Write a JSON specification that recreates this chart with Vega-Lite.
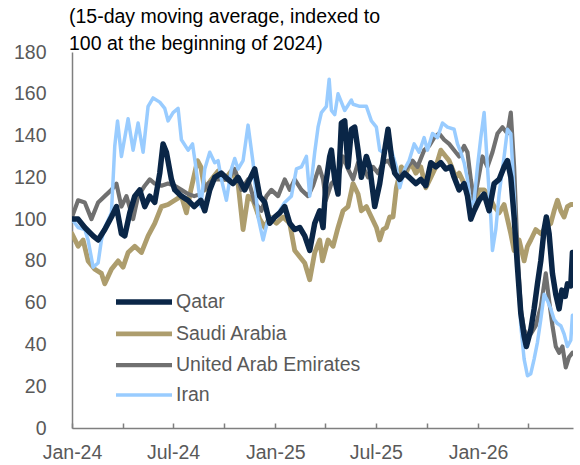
{
  "$schema": "https://vega.github.io/schema/vega-lite/v6.json",
  "width": 501,
  "height": 376,
  "autosize": {"type": "none"},
  "padding": {"left": 72, "top": 52, "right": 7, "bottom": 37},
  "background": "white",
  "config": {"view": {"stroke": null}, "font": "Liberation Sans"},
  "title": {
    "text": ["(15-day moving average, indexed to", "100 at the beginning of 2024)"],
    "anchor": "start",
    "frame": "group",
    "font": "Liberation Sans",
    "fontSize": 19.5,
    "fontWeight": "normal",
    "color": "#000000",
    "lineHeight": 27,
    "baseline": "bottom",
    "offset": -31,
    "dx": -3
  },
  "datasets": {
    "traffic": [
      {"d":"2024-01-01","c":"Saudi Arabia","v":93},{"d":"2024-01-12","c":"Saudi Arabia","v":87},{"d":"2024-01-21","c":"Saudi Arabia","v":90},{"d":"2024-01-30","c":"Saudi Arabia","v":80},{"d":"2024-02-11","c":"Saudi Arabia","v":76},{"d":"2024-02-23","c":"Saudi Arabia","v":74},{"d":"2024-02-29","c":"Saudi Arabia","v":69},{"d":"2024-03-12","c":"Saudi Arabia","v":76},{"d":"2024-03-24","c":"Saudi Arabia","v":80},{"d":"2024-04-02","c":"Saudi Arabia","v":77},{"d":"2024-04-11","c":"Saudi Arabia","v":84},{"d":"2024-04-23","c":"Saudi Arabia","v":87},{"d":"2024-05-05","c":"Saudi Arabia","v":84},{"d":"2024-05-17","c":"Saudi Arabia","v":92},{"d":"2024-05-29","c":"Saudi Arabia","v":98},{"d":"2024-06-10","c":"Saudi Arabia","v":106},{"d":"2024-06-22","c":"Saudi Arabia","v":107},{"d":"2024-07-04","c":"Saudi Arabia","v":109},{"d":"2024-07-16","c":"Saudi Arabia","v":111},{"d":"2024-07-25","c":"Saudi Arabia","v":103},{"d":"2024-08-02","c":"Saudi Arabia","v":114},{"d":"2024-08-14","c":"Saudi Arabia","v":128},{"d":"2024-08-20","c":"Saudi Arabia","v":125},{"d":"2024-08-27","c":"Saudi Arabia","v":114},{"d":"2024-09-08","c":"Saudi Arabia","v":119},{"d":"2024-09-20","c":"Saudi Arabia","v":123},{"d":"2024-10-02","c":"Saudi Arabia","v":119},{"d":"2024-10-14","c":"Saudi Arabia","v":123},{"d":"2024-10-26","c":"Saudi Arabia","v":117},{"d":"2024-11-04","c":"Saudi Arabia","v":95},{"d":"2024-11-13","c":"Saudi Arabia","v":111},{"d":"2024-11-22","c":"Saudi Arabia","v":109},{"d":"2024-12-04","c":"Saudi Arabia","v":100},{"d":"2024-12-13","c":"Saudi Arabia","v":96},{"d":"2024-12-22","c":"Saudi Arabia","v":101},{"d":"2025-01-03","c":"Saudi Arabia","v":98},{"d":"2025-01-15","c":"Saudi Arabia","v":101},{"d":"2025-01-27","c":"Saudi Arabia","v":98},{"d":"2025-02-05","c":"Saudi Arabia","v":85},{"d":"2025-02-14","c":"Saudi Arabia","v":82},{"d":"2025-02-23","c":"Saudi Arabia","v":79},{"d":"2025-03-04","c":"Saudi Arabia","v":71},{"d":"2025-03-13","c":"Saudi Arabia","v":84},{"d":"2025-03-22","c":"Saudi Arabia","v":90},{"d":"2025-03-27","c":"Saudi Arabia","v":80},{"d":"2025-04-06","c":"Saudi Arabia","v":90},{"d":"2025-04-15","c":"Saudi Arabia","v":87},{"d":"2025-04-24","c":"Saudi Arabia","v":96},{"d":"2025-05-03","c":"Saudi Arabia","v":104},{"d":"2025-05-12","c":"Saudi Arabia","v":106},{"d":"2025-05-21","c":"Saudi Arabia","v":117},{"d":"2025-05-30","c":"Saudi Arabia","v":112},{"d":"2025-06-05","c":"Saudi Arabia","v":104},{"d":"2025-06-14","c":"Saudi Arabia","v":106},{"d":"2025-06-23","c":"Saudi Arabia","v":101},{"d":"2025-07-02","c":"Saudi Arabia","v":96},{"d":"2025-07-08","c":"Saudi Arabia","v":90},{"d":"2025-07-14","c":"Saudi Arabia","v":95},{"d":"2025-07-20","c":"Saudi Arabia","v":96},{"d":"2025-07-26","c":"Saudi Arabia","v":101},{"d":"2025-08-01","c":"Saudi Arabia","v":101},{"d":"2025-08-07","c":"Saudi Arabia","v":115},{"d":"2025-08-16","c":"Saudi Arabia","v":125},{"d":"2025-08-24","c":"Saudi Arabia","v":122},{"d":"2025-09-02","c":"Saudi Arabia","v":127},{"d":"2025-09-11","c":"Saudi Arabia","v":122},{"d":"2025-09-20","c":"Saudi Arabia","v":125},{"d":"2025-09-29","c":"Saudi Arabia","v":115},{"d":"2025-10-08","c":"Saudi Arabia","v":120},{"d":"2025-10-17","c":"Saudi Arabia","v":125},{"d":"2025-10-26","c":"Saudi Arabia","v":133},{"d":"2025-11-04","c":"Saudi Arabia","v":130},{"d":"2025-11-10","c":"Saudi Arabia","v":128},{"d":"2025-11-16","c":"Saudi Arabia","v":124},{"d":"2025-11-22","c":"Saudi Arabia","v":120},{"d":"2025-11-28","c":"Saudi Arabia","v":122},{"d":"2025-12-07","c":"Saudi Arabia","v":117},{"d":"2025-12-16","c":"Saudi Arabia","v":111},{"d":"2025-12-25","c":"Saudi Arabia","v":107},{"d":"2026-01-03","c":"Saudi Arabia","v":114},{"d":"2026-01-12","c":"Saudi Arabia","v":114},{"d":"2026-01-21","c":"Saudi Arabia","v":111},{"d":"2026-01-30","c":"Saudi Arabia","v":106},{"d":"2026-02-08","c":"Saudi Arabia","v":103},{"d":"2026-02-17","c":"Saudi Arabia","v":107},{"d":"2026-02-23","c":"Saudi Arabia","v":100},{"d":"2026-03-01","c":"Saudi Arabia","v":93},{"d":"2026-03-07","c":"Saudi Arabia","v":85},{"d":"2026-03-16","c":"Saudi Arabia","v":90},{"d":"2026-03-25","c":"Saudi Arabia","v":80},{"d":"2026-03-31","c":"Saudi Arabia","v":87},{"d":"2026-04-06","c":"Saudi Arabia","v":90},{"d":"2026-04-15","c":"Saudi Arabia","v":95},{"d":"2026-04-24","c":"Saudi Arabia","v":93},{"d":"2026-05-03","c":"Saudi Arabia","v":96},{"d":"2026-05-12","c":"Saudi Arabia","v":98},{"d":"2026-05-18","c":"Saudi Arabia","v":104},{"d":"2026-05-24","c":"Saudi Arabia","v":109},{"d":"2026-05-30","c":"Saudi Arabia","v":104},{"d":"2026-06-05","c":"Saudi Arabia","v":101},{"d":"2026-06-11","c":"Saudi Arabia","v":106},{"d":"2026-06-17","c":"Saudi Arabia","v":107},{"d":"2026-06-20","c":"Saudi Arabia","v":107},

      {"d":"2024-01-01","c":"United Arab Emirates","v":101},{"d":"2024-01-12","c":"United Arab Emirates","v":109},{"d":"2024-01-24","c":"United Arab Emirates","v":108},{"d":"2024-02-05","c":"United Arab Emirates","v":100},{"d":"2024-02-17","c":"United Arab Emirates","v":108},{"d":"2024-02-29","c":"United Arab Emirates","v":111},{"d":"2024-03-12","c":"United Arab Emirates","v":114},{"d":"2024-03-21","c":"United Arab Emirates","v":117},{"d":"2024-03-30","c":"United Arab Emirates","v":106},{"d":"2024-04-08","c":"United Arab Emirates","v":111},{"d":"2024-04-20","c":"United Arab Emirates","v":100},{"d":"2024-04-29","c":"United Arab Emirates","v":111},{"d":"2024-05-11","c":"United Arab Emirates","v":116},{"d":"2024-05-20","c":"United Arab Emirates","v":119},{"d":"2024-05-29","c":"United Arab Emirates","v":117},{"d":"2024-06-10","c":"United Arab Emirates","v":116},{"d":"2024-06-22","c":"United Arab Emirates","v":117},{"d":"2024-07-04","c":"United Arab Emirates","v":116},{"d":"2024-07-16","c":"United Arab Emirates","v":114},{"d":"2024-07-28","c":"United Arab Emirates","v":112},{"d":"2024-08-08","c":"United Arab Emirates","v":111},{"d":"2024-08-20","c":"United Arab Emirates","v":112},{"d":"2024-09-02","c":"United Arab Emirates","v":117},{"d":"2024-09-14","c":"United Arab Emirates","v":119},{"d":"2024-09-26","c":"United Arab Emirates","v":119},{"d":"2024-10-08","c":"United Arab Emirates","v":119},{"d":"2024-10-20","c":"United Arab Emirates","v":124},{"d":"2024-11-01","c":"United Arab Emirates","v":114},{"d":"2024-11-13","c":"United Arab Emirates","v":119},{"d":"2024-11-25","c":"United Arab Emirates","v":108},{"d":"2024-12-07","c":"United Arab Emirates","v":104},{"d":"2024-12-16","c":"United Arab Emirates","v":111},{"d":"2024-12-25","c":"United Arab Emirates","v":114},{"d":"2025-01-06","c":"United Arab Emirates","v":111},{"d":"2025-01-18","c":"United Arab Emirates","v":119},{"d":"2025-01-27","c":"United Arab Emirates","v":114},{"d":"2025-02-05","c":"United Arab Emirates","v":119},{"d":"2025-02-17","c":"United Arab Emirates","v":114},{"d":"2025-03-01","c":"United Arab Emirates","v":111},{"d":"2025-03-10","c":"United Arab Emirates","v":116},{"d":"2025-03-21","c":"United Arab Emirates","v":125},{"d":"2025-03-28","c":"United Arab Emirates","v":119},{"d":"2025-04-02","c":"United Arab Emirates","v":109},{"d":"2025-04-12","c":"United Arab Emirates","v":117},{"d":"2025-04-24","c":"United Arab Emirates","v":120},{"d":"2025-05-03","c":"United Arab Emirates","v":130},{"d":"2025-05-12","c":"United Arab Emirates","v":124},{"d":"2025-05-21","c":"United Arab Emirates","v":119},{"d":"2025-05-30","c":"United Arab Emirates","v":127},{"d":"2025-06-08","c":"United Arab Emirates","v":125},{"d":"2025-06-17","c":"United Arab Emirates","v":120},{"d":"2025-06-26","c":"United Arab Emirates","v":125},{"d":"2025-07-05","c":"United Arab Emirates","v":122},{"d":"2025-07-14","c":"United Arab Emirates","v":127},{"d":"2025-07-23","c":"United Arab Emirates","v":128},{"d":"2025-08-01","c":"United Arab Emirates","v":124},{"d":"2025-08-10","c":"United Arab Emirates","v":120},{"d":"2025-08-19","c":"United Arab Emirates","v":122},{"d":"2025-08-27","c":"United Arab Emirates","v":125},{"d":"2025-09-05","c":"United Arab Emirates","v":128},{"d":"2025-09-14","c":"United Arab Emirates","v":125},{"d":"2025-09-26","c":"United Arab Emirates","v":133},{"d":"2025-10-05","c":"United Arab Emirates","v":135},{"d":"2025-10-14","c":"United Arab Emirates","v":139},{"d":"2025-10-23","c":"United Arab Emirates","v":141},{"d":"2025-11-01","c":"United Arab Emirates","v":138},{"d":"2025-11-10","c":"United Arab Emirates","v":136},{"d":"2025-11-19","c":"United Arab Emirates","v":133},{"d":"2025-11-28","c":"United Arab Emirates","v":130},{"d":"2025-12-07","c":"United Arab Emirates","v":135},{"d":"2025-12-13","c":"United Arab Emirates","v":132},{"d":"2025-12-19","c":"United Arab Emirates","v":119},{"d":"2025-12-25","c":"United Arab Emirates","v":109},{"d":"2025-12-31","c":"United Arab Emirates","v":117},{"d":"2026-01-09","c":"United Arab Emirates","v":130},{"d":"2026-01-18","c":"United Arab Emirates","v":125},{"d":"2026-01-27","c":"United Arab Emirates","v":132},{"d":"2026-02-05","c":"United Arab Emirates","v":141},{"d":"2026-02-14","c":"United Arab Emirates","v":144},{"d":"2026-02-23","c":"United Arab Emirates","v":141},{"d":"2026-03-01","c":"United Arab Emirates","v":151},{"d":"2026-03-07","c":"United Arab Emirates","v":125},{"d":"2026-03-13","c":"United Arab Emirates","v":85},{"d":"2026-03-19","c":"United Arab Emirates","v":57},{"d":"2026-03-25","c":"United Arab Emirates","v":47},{"d":"2026-03-31","c":"United Arab Emirates","v":44},{"d":"2026-04-06","c":"United Arab Emirates","v":45},{"d":"2026-04-15","c":"United Arab Emirates","v":49},{"d":"2026-04-24","c":"United Arab Emirates","v":58},{"d":"2026-05-03","c":"United Arab Emirates","v":74},{"d":"2026-05-09","c":"United Arab Emirates","v":61},{"d":"2026-05-15","c":"United Arab Emirates","v":49},{"d":"2026-05-21","c":"United Arab Emirates","v":39},{"d":"2026-05-27","c":"United Arab Emirates","v":36},{"d":"2026-06-02","c":"United Arab Emirates","v":39},{"d":"2026-06-08","c":"United Arab Emirates","v":29},{"d":"2026-06-14","c":"United Arab Emirates","v":34},{"d":"2026-06-20","c":"United Arab Emirates","v":36},

      {"d":"2024-01-01","c":"Iran","v":100},{"d":"2024-01-12","c":"Iran","v":96},{"d":"2024-01-24","c":"Iran","v":95},{"d":"2024-01-30","c":"Iran","v":90},{"d":"2024-02-08","c":"Iran","v":77},{"d":"2024-02-17","c":"Iran","v":79},{"d":"2024-02-23","c":"Iran","v":90},{"d":"2024-02-29","c":"Iran","v":96},{"d":"2024-03-12","c":"Iran","v":103},{"d":"2024-03-18","c":"Iran","v":135},{"d":"2024-03-23","c":"Iran","v":147},{"d":"2024-03-30","c":"Iran","v":130},{"d":"2024-04-11","c":"Iran","v":148},{"d":"2024-04-20","c":"Iran","v":133},{"d":"2024-04-29","c":"Iran","v":146},{"d":"2024-05-08","c":"Iran","v":132},{"d":"2024-05-17","c":"Iran","v":154},{"d":"2024-05-26","c":"Iran","v":158},{"d":"2024-06-07","c":"Iran","v":156},{"d":"2024-06-16","c":"Iran","v":153},{"d":"2024-06-22","c":"Iran","v":147},{"d":"2024-07-01","c":"Iran","v":151},{"d":"2024-07-10","c":"Iran","v":153},{"d":"2024-07-16","c":"Iran","v":138},{"d":"2024-07-28","c":"Iran","v":133},{"d":"2024-08-05","c":"Iran","v":136},{"d":"2024-08-11","c":"Iran","v":125},{"d":"2024-08-20","c":"Iran","v":106},{"d":"2024-08-27","c":"Iran","v":124},{"d":"2024-09-05","c":"Iran","v":132},{"d":"2024-09-14","c":"Iran","v":127},{"d":"2024-09-20","c":"Iran","v":128},{"d":"2024-09-26","c":"Iran","v":119},{"d":"2024-10-05","c":"Iran","v":109},{"d":"2024-10-14","c":"Iran","v":124},{"d":"2024-10-20","c":"Iran","v":129},{"d":"2024-10-26","c":"Iran","v":124},{"d":"2024-11-04","c":"Iran","v":128},{"d":"2024-11-13","c":"Iran","v":145},{"d":"2024-11-22","c":"Iran","v":127},{"d":"2024-12-01","c":"Iran","v":101},{"d":"2024-12-10","c":"Iran","v":90},{"d":"2024-12-19","c":"Iran","v":100},{"d":"2024-12-31","c":"Iran","v":101},{"d":"2025-01-09","c":"Iran","v":104},{"d":"2025-01-18","c":"Iran","v":108},{"d":"2025-01-30","c":"Iran","v":111},{"d":"2025-02-08","c":"Iran","v":124},{"d":"2025-02-17","c":"Iran","v":125},{"d":"2025-02-26","c":"Iran","v":130},{"d":"2025-03-04","c":"Iran","v":111},{"d":"2025-03-13","c":"Iran","v":132},{"d":"2025-03-19","c":"Iran","v":144},{"d":"2025-03-25","c":"Iran","v":151},{"d":"2025-04-03","c":"Iran","v":154},{"d":"2025-04-08","c":"Iran","v":167},{"d":"2025-04-12","c":"Iran","v":152},{"d":"2025-04-18","c":"Iran","v":150},{"d":"2025-04-24","c":"Iran","v":160},{"d":"2025-05-06","c":"Iran","v":152},{"d":"2025-05-18","c":"Iran","v":157},{"d":"2025-05-21","c":"Iran","v":155},{"d":"2025-06-02","c":"Iran","v":154},{"d":"2025-06-14","c":"Iran","v":154},{"d":"2025-06-23","c":"Iran","v":147},{"d":"2025-07-02","c":"Iran","v":144},{"d":"2025-07-08","c":"Iran","v":133},{"d":"2025-07-14","c":"Iran","v":132},{"d":"2025-07-20","c":"Iran","v":135},{"d":"2025-07-29","c":"Iran","v":133},{"d":"2025-08-07","c":"Iran","v":125},{"d":"2025-08-13","c":"Iran","v":115},{"d":"2025-08-22","c":"Iran","v":124},{"d":"2025-08-30","c":"Iran","v":128},{"d":"2025-09-08","c":"Iran","v":136},{"d":"2025-09-17","c":"Iran","v":132},{"d":"2025-09-26","c":"Iran","v":139},{"d":"2025-10-02","c":"Iran","v":133},{"d":"2025-10-11","c":"Iran","v":141},{"d":"2025-10-20","c":"Iran","v":139},{"d":"2025-10-29","c":"Iran","v":146},{"d":"2025-11-07","c":"Iran","v":144},{"d":"2025-11-19","c":"Iran","v":143},{"d":"2025-11-25","c":"Iran","v":136},{"d":"2025-12-01","c":"Iran","v":132},{"d":"2025-12-07","c":"Iran","v":127},{"d":"2025-12-13","c":"Iran","v":119},{"d":"2025-12-19","c":"Iran","v":106},{"d":"2025-12-25","c":"Iran","v":109},{"d":"2025-12-31","c":"Iran","v":125},{"d":"2026-01-06","c":"Iran","v":139},{"d":"2026-01-12","c":"Iran","v":151},{"d":"2026-01-18","c":"Iran","v":125},{"d":"2026-01-24","c":"Iran","v":101},{"d":"2026-01-27","c":"Iran","v":85},{"d":"2026-02-02","c":"Iran","v":95},{"d":"2026-02-08","c":"Iran","v":112},{"d":"2026-02-17","c":"Iran","v":130},{"d":"2026-02-23","c":"Iran","v":143},{"d":"2026-03-01","c":"Iran","v":141},{"d":"2026-03-07","c":"Iran","v":112},{"d":"2026-03-13","c":"Iran","v":77},{"d":"2026-03-19","c":"Iran","v":49},{"d":"2026-03-25","c":"Iran","v":33},{"d":"2026-03-31","c":"Iran","v":25},{"d":"2026-04-06","c":"Iran","v":26},{"d":"2026-04-12","c":"Iran","v":33},{"d":"2026-04-18","c":"Iran","v":41},{"d":"2026-04-24","c":"Iran","v":52},{"d":"2026-04-30","c":"Iran","v":64},{"d":"2026-05-06","c":"Iran","v":61},{"d":"2026-05-12","c":"Iran","v":57},{"d":"2026-05-18","c":"Iran","v":52},{"d":"2026-05-24","c":"Iran","v":50},{"d":"2026-05-30","c":"Iran","v":49},{"d":"2026-06-05","c":"Iran","v":45},{"d":"2026-06-11","c":"Iran","v":39},{"d":"2026-06-17","c":"Iran","v":42},{"d":"2026-06-20","c":"Iran","v":54},

      {"d":"2024-01-01","c":"Qatar","v":100},{"d":"2024-01-12","c":"Qatar","v":100},{"d":"2024-01-24","c":"Qatar","v":96},{"d":"2024-02-08","c":"Qatar","v":92},{"d":"2024-02-17","c":"Qatar","v":90},{"d":"2024-02-29","c":"Qatar","v":95},{"d":"2024-03-12","c":"Qatar","v":101},{"d":"2024-03-21","c":"Qatar","v":106},{"d":"2024-03-30","c":"Qatar","v":93},{"d":"2024-04-05","c":"Qatar","v":92},{"d":"2024-04-14","c":"Qatar","v":103},{"d":"2024-04-23","c":"Qatar","v":111},{"d":"2024-05-02","c":"Qatar","v":114},{"d":"2024-05-11","c":"Qatar","v":106},{"d":"2024-05-20","c":"Qatar","v":111},{"d":"2024-05-29","c":"Qatar","v":108},{"d":"2024-06-07","c":"Qatar","v":122},{"d":"2024-06-13","c":"Qatar","v":136},{"d":"2024-06-19","c":"Qatar","v":132},{"d":"2024-06-28","c":"Qatar","v":119},{"d":"2024-07-04","c":"Qatar","v":114},{"d":"2024-07-16","c":"Qatar","v":111},{"d":"2024-07-28","c":"Qatar","v":109},{"d":"2024-08-08","c":"Qatar","v":106},{"d":"2024-08-20","c":"Qatar","v":109},{"d":"2024-08-27","c":"Qatar","v":104},{"d":"2024-09-05","c":"Qatar","v":114},{"d":"2024-09-14","c":"Qatar","v":120},{"d":"2024-09-26","c":"Qatar","v":122},{"d":"2024-10-08","c":"Qatar","v":119},{"d":"2024-10-17","c":"Qatar","v":117},{"d":"2024-10-26","c":"Qatar","v":120},{"d":"2024-11-07","c":"Qatar","v":114},{"d":"2024-11-16","c":"Qatar","v":119},{"d":"2024-11-25","c":"Qatar","v":124},{"d":"2024-12-04","c":"Qatar","v":111},{"d":"2024-12-13","c":"Qatar","v":108},{"d":"2024-12-22","c":"Qatar","v":98},{"d":"2024-12-31","c":"Qatar","v":101},{"d":"2025-01-09","c":"Qatar","v":103},{"d":"2025-01-18","c":"Qatar","v":106},{"d":"2025-01-27","c":"Qatar","v":98},{"d":"2025-02-05","c":"Qatar","v":95},{"d":"2025-02-14","c":"Qatar","v":96},{"d":"2025-02-23","c":"Qatar","v":92},{"d":"2025-03-04","c":"Qatar","v":85},{"d":"2025-03-13","c":"Qatar","v":98},{"d":"2025-03-22","c":"Qatar","v":104},{"d":"2025-03-28","c":"Qatar","v":96},{"d":"2025-04-02","c":"Qatar","v":117},{"d":"2025-04-09","c":"Qatar","v":130},{"d":"2025-04-12","c":"Qatar","v":133},{"d":"2025-04-18","c":"Qatar","v":119},{"d":"2025-04-24","c":"Qatar","v":112},{"d":"2025-04-30","c":"Qatar","v":146},{"d":"2025-05-06","c":"Qatar","v":147},{"d":"2025-05-12","c":"Qatar","v":125},{"d":"2025-05-18","c":"Qatar","v":143},{"d":"2025-05-24","c":"Qatar","v":144},{"d":"2025-05-30","c":"Qatar","v":133},{"d":"2025-06-05","c":"Qatar","v":120},{"d":"2025-06-14","c":"Qatar","v":130},{"d":"2025-06-20","c":"Qatar","v":125},{"d":"2025-06-29","c":"Qatar","v":106},{"d":"2025-07-08","c":"Qatar","v":117},{"d":"2025-07-17","c":"Qatar","v":133},{"d":"2025-07-23","c":"Qatar","v":143},{"d":"2025-07-29","c":"Qatar","v":130},{"d":"2025-08-04","c":"Qatar","v":122},{"d":"2025-08-13","c":"Qatar","v":119},{"d":"2025-08-22","c":"Qatar","v":122},{"d":"2025-08-30","c":"Qatar","v":120},{"d":"2025-09-11","c":"Qatar","v":117},{"d":"2025-09-20","c":"Qatar","v":119},{"d":"2025-09-29","c":"Qatar","v":116},{"d":"2025-10-08","c":"Qatar","v":127},{"d":"2025-10-17","c":"Qatar","v":125},{"d":"2025-10-26","c":"Qatar","v":127},{"d":"2025-11-04","c":"Qatar","v":124},{"d":"2025-11-13","c":"Qatar","v":125},{"d":"2025-11-19","c":"Qatar","v":120},{"d":"2025-11-28","c":"Qatar","v":114},{"d":"2025-12-07","c":"Qatar","v":117},{"d":"2025-12-13","c":"Qatar","v":111},{"d":"2025-12-19","c":"Qatar","v":100},{"d":"2025-12-25","c":"Qatar","v":104},{"d":"2026-01-03","c":"Qatar","v":109},{"d":"2026-01-12","c":"Qatar","v":112},{"d":"2026-01-21","c":"Qatar","v":104},{"d":"2026-01-30","c":"Qatar","v":117},{"d":"2026-02-08","c":"Qatar","v":119},{"d":"2026-02-17","c":"Qatar","v":125},{"d":"2026-02-23","c":"Qatar","v":128},{"d":"2026-03-01","c":"Qatar","v":120},{"d":"2026-03-07","c":"Qatar","v":101},{"d":"2026-03-13","c":"Qatar","v":77},{"d":"2026-03-19","c":"Qatar","v":55},{"d":"2026-03-25","c":"Qatar","v":44},{"d":"2026-03-29","c":"Qatar","v":39},{"d":"2026-04-06","c":"Qatar","v":47},{"d":"2026-04-12","c":"Qatar","v":57},{"d":"2026-04-18","c":"Qatar","v":69},{"d":"2026-04-24","c":"Qatar","v":80},{"d":"2026-04-30","c":"Qatar","v":95},{"d":"2026-05-04","c":"Qatar","v":101},{"d":"2026-05-09","c":"Qatar","v":93},{"d":"2026-05-15","c":"Qatar","v":74},{"d":"2026-05-21","c":"Qatar","v":64},{"d":"2026-05-27","c":"Qatar","v":57},{"d":"2026-06-01","c":"Qatar","v":66},{"d":"2026-06-07","c":"Qatar","v":63},{"d":"2026-06-11","c":"Qatar","v":69},{"d":"2026-06-17","c":"Qatar","v":68},{"d":"2026-06-20","c":"Qatar","v":84}
    ]
  },
  "data": {"name": "traffic"},
  "mark": {"type": "line", "strokeCap": "round", "strokeJoin": "round", "clip": true},
  "encoding": {
    "x": {
      "field": "d",
      "type": "temporal",
      "scale": {
        "type": "utc",
        "domain": [
          {"year": 2024, "month": 1, "date": 1, "utc": true},
          {"year": 2026, "month": 6, "date": 21, "utc": true}
        ]
      },
      "axis": {
        "title": null,
        "grid": false,
        "values": [
          {"year": 2024, "month": 1, "date": 1, "utc": true},
          {"year": 2024, "month": 4, "date": 1, "utc": true},
          {"year": 2024, "month": 7, "date": 1, "utc": true},
          {"year": 2024, "month": 10, "date": 1, "utc": true},
          {"year": 2025, "month": 1, "date": 1, "utc": true},
          {"year": 2025, "month": 4, "date": 1, "utc": true},
          {"year": 2025, "month": 7, "date": 1, "utc": true},
          {"year": 2025, "month": 10, "date": 1, "utc": true},
          {"year": 2026, "month": 1, "date": 1, "utc": true},
          {"year": 2026, "month": 4, "date": 1, "utc": true}
        ],
        "labelExpr": "utcmonth(datum.value) % 6 == 0 ? utcFormat(datum.value, '%b-%y') : ''",
        "domainColor": "#7f7f7f",
        "domainWidth": 1.5,
        "tickColor": "#7f7f7f",
        "tickWidth": 1.5,
        "tickSize": -5,
        "labelFont": "Liberation Sans",
        "labelFontSize": 19.5,
        "labelColor": "#595959",
        "labelPadding": 20,
        "labelFlush": false,
        "labelOverlap": false
      }
    },
    "y": {
      "field": "v",
      "type": "quantitative",
      "scale": {"domain": [0, 180], "nice": false},
      "axis": {
        "title": null,
        "grid": false,
        "ticks": false,
        "values": [0, 20, 40, 60, 80, 100, 120, 140, 160, 180],
        "domainColor": "#7f7f7f",
        "domainWidth": 1.5,
        "labelFont": "Liberation Sans",
        "labelFontSize": 19.5,
        "labelColor": "#595959",
        "labelPadding": 26
      }
    },
    "color": {
      "field": "c",
      "type": "nominal",
      "scale": {
        "domain": ["Qatar", "Saudi Arabia", "United Arab Emirates", "Iran"],
        "range": ["#0a2647", "#ad9d6d", "#707070", "#99ccff"]
      },
      "legend": {
        "orient": "none",
        "legendX": 55,
        "legendY": 233,
        "title": null,
        "symbolType": "M-2,0H2",
        "symbolSize": 784,
        "labelFont": "Liberation Sans",
        "labelFontSize": 19.5,
        "labelColor": "#595959",
        "labelOffset": 15,
        "labelLimit": 400,
        "rowPadding": 4.3
      }
    },
    "strokeWidth": {
      "field": "c",
      "type": "nominal",
      "scale": {
        "domain": ["Qatar", "Saudi Arabia", "United Arab Emirates", "Iran"],
        "range": [5.5, 3.5, 3.5, 3.5]
      },
      "legend": {
        "orient": "none",
        "legendX": 55,
        "legendY": 233,
        "title": null,
        "symbolType": "M-2,0H2",
        "symbolSize": 784,
        "labelFont": "Liberation Sans",
        "labelFontSize": 19.5,
        "labelColor": "#595959",
        "labelOffset": 15,
        "labelLimit": 400,
        "rowPadding": 4.3
      }
    }
  }
}
